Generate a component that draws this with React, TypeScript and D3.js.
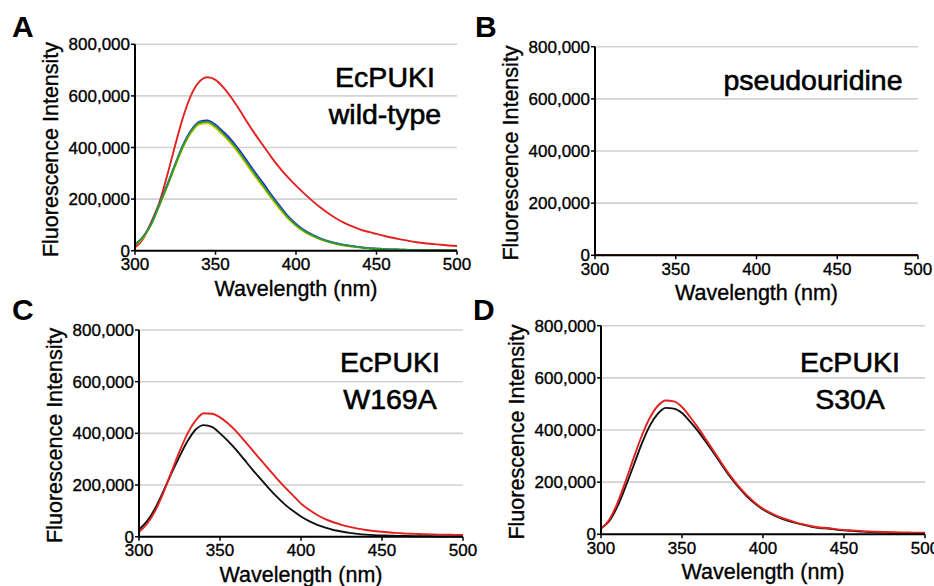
import React from "react";
import * as d3 from "d3";

// wavelength grid (nm) and values in units of 1,000 counts
const wavelength = [
  300, 305, 310, 315, 320, 325, 330, 335, 340, 345, 350, 355, 360, 365, 370,
  375, 380, 385, 390, 395, 400, 405, 410, 415, 420, 425, 430, 435, 440, 445,
  450, 455, 460, 465, 470, 475, 480, 485, 490, 495, 500,
];

const xTicks = [300, 350, 400, 450, 500];
const yTicks = [0, 200, 400, 600, 800];
const yTickLabels = ["0", "200,000", "400,000", "600,000", "800,000"];

// A: EcPUKI wild-type
const wtRed = [
  12, 45, 110, 185, 292, 410, 520, 605, 655, 672, 662, 632, 592, 545, 495,
  448, 404, 360, 320, 284, 252, 222, 194, 168, 145, 125, 108, 94, 82, 73,
  65, 57, 50, 44, 38, 33, 29, 26, 23, 20, 18,
];
const wtYellow = [
  22, 50, 100, 172, 248, 328, 402, 458, 490, 494, 476, 446, 412, 372, 328,
  284, 243, 200, 160, 124, 96, 74, 57, 44, 34, 26, 20, 16, 12, 9,
  7, 5, 4, 3, 2.5, 2, 1.5, 1.5, 1, 1, 1,
];
const wtBlue = [
  24, 54, 104, 178, 255, 336, 412, 468, 500, 505, 488, 460, 428, 388, 344,
  300, 258, 214, 173, 134, 104, 80, 62, 48, 37, 29, 22, 18, 14, 10,
  8, 6, 5, 4, 3, 2.5, 2, 2, 1.5, 1, 1,
];
const wtGreen = [
  24, 53, 102, 176, 252, 333, 408, 464, 496, 500, 482, 453, 420, 380, 336,
  292, 250, 207, 167, 129, 100, 77, 60, 46, 35, 27, 21, 17, 13, 10,
  8, 6, 5, 4, 3, 2.5, 2, 2, 1.5, 1, 1,
];

// B: pseudouridine
const psiRed = [
  1, 1, 1, 1, 1, 1, 1, 1, 1, 1, 1, 1, 1, 1, 1,
  1, 1, 1, 1, 1, 1, 1, 1, 1, 1, 1, 1, 1, 1, 1,
  1, 1, 1, 1, 1, 1, 1, 1, 1, 1, 1,
];

// C: EcPUKI W169A
const w169aBlack = [
  28, 60, 110, 175, 245, 310, 370, 415, 432, 425, 400, 370, 336, 298, 260,
  224, 188, 155, 125, 100, 78, 60, 46, 35, 26, 20, 15, 11, 8, 6,
  5, 4, 3, 2.5, 2, 1.5, 1.5, 1, 1, 1, 1,
];
const w169aRed = [
  18, 50, 100, 170, 250, 330, 400, 450, 478, 476, 462, 438, 408, 372, 335,
  298, 262, 226, 192, 160, 128, 104, 84, 68, 56, 46, 38, 31, 26, 22,
  19, 16, 14, 12, 11, 10, 9, 8, 8, 7, 7,
];

// D: EcPUKI S30A
const s30aBlack = [
  22, 50, 105, 180, 262, 345, 415, 462, 485, 482, 465, 432, 395, 352, 308,
  262, 218, 180, 146, 118, 95, 78, 64, 53, 44, 36, 29, 24, 22, 18,
  15, 13, 11, 9, 8, 7, 6, 5, 5, 4, 4,
];
const s30aRed = [
  22, 55, 118, 200, 290, 375, 445, 492, 513, 510, 488, 450, 408, 362, 315,
  268, 223, 184, 150, 121, 98, 81, 67, 56, 46, 38, 31, 26, 24, 20,
  17, 15, 13, 11, 10, 9, 8, 7, 7, 6, 6,
];

const RED = "#e3211e";
const BLACK = "#111111";
const FONT = "'Liberation Sans', Arial, sans-serif";

const panels = [
  {
    letter: "A", lx: 12, ly: 37,
    left: 135, right: 457, top: 44.3, bottom: 250.7,
    labels: ["EcPUKI", "wild-type"], labelX: 385, labelY: 86.7,
    series: [
      { values: wtRed, color: RED },
      { values: wtYellow, color: "#e8c800" },
      { values: wtBlue, color: "#2020e0" },
      { values: wtGreen, color: "#2ca02c" },
    ],
  },
  {
    letter: "B", lx: 475, ly: 37,
    left: 595, right: 918, top: 46.7, bottom: 255.3,
    labels: ["pseudouridine"], labelX: 813, labelY: 90,
    series: [{ values: psiRed, color: RED }],
  },
  {
    letter: "C", lx: 12, ly: 320,
    left: 139, right: 463, top: 330, bottom: 536.7,
    labels: ["EcPUKI", "W169A"], labelX: 390, labelY: 371.7,
    series: [
      { values: w169aBlack, color: BLACK },
      { values: w169aRed, color: RED },
    ],
  },
  {
    letter: "D", lx: 473, ly: 320,
    left: 601, right: 925, top: 325.7, bottom: 534.3,
    labels: ["EcPUKI", "S30A"], labelX: 850, labelY: 371.7,
    series: [
      { values: s30aBlack, color: BLACK },
      { values: s30aRed, color: RED },
    ],
  },
];

function Panel({ p }: { p: any }) {
  const x = d3.scaleLinear().domain([300, 500]).range([p.left, p.right]);
  const y = d3.scaleLinear().domain([0, 800]).range([p.bottom, p.top]);
  const line = d3
    .line<number>()
    .x((_, i) => x(wavelength[i]))
    .y((d) => y(d))
    .curve(d3.curveMonotoneX);

  return (
    <g fontFamily={FONT}>
      <text x={p.lx} y={p.ly} fontSize={30} fontWeight="bold" fill="#000">
        {p.letter}
      </text>

      {yTicks.slice(1).map((t) => (
        <line key={t} x1={p.left} x2={p.right} y1={y(t)} y2={y(t)}
          stroke="#d2d2d2" strokeWidth={1.6} />
      ))}

      {p.series.map((s: any, i: number) => (
        <path key={i} d={line(s.values) || ""} fill="none"
          stroke={s.color} strokeWidth={1.9} />
      ))}

      <line x1={p.left} x2={p.left} y1={p.top} y2={p.bottom}
        stroke="#000" strokeWidth={2} />
      <line x1={p.left} x2={p.right} y1={p.bottom} y2={p.bottom}
        stroke="#000" strokeWidth={2} />

      {yTicks.map((t, i) => (
        <g key={t}>
          <line x1={p.left - 4} x2={p.left} y1={y(t)} y2={y(t)}
            stroke="#000" strokeWidth={1.5} />
          <text x={p.left - 5} y={y(t)} dy="0.36em" textAnchor="end"
            fontSize={17} fill="#000" stroke="#000" strokeWidth={0.35}>
            {yTickLabels[i]}
          </text>
        </g>
      ))}

      {xTicks.map((t) => (
        <g key={t}>
          <line x1={x(t)} x2={x(t)} y1={p.bottom} y2={p.bottom + 4}
            stroke="#000" strokeWidth={1.5} />
          <text x={x(t)} y={p.bottom + 19.5} textAnchor="middle"
            fontSize={17} fill="#000" stroke="#000" strokeWidth={0.35}>
            {t}
          </text>
        </g>
      ))}

      <text x={(p.left + p.right) / 2} y={p.bottom + 45} textAnchor="middle"
        fontSize={21.5} fill="#000" stroke="#000" strokeWidth={0.35}>
        Wavelength (nm)
      </text>
      <text
        transform={`translate(${p.left - 77},${(p.top + p.bottom) / 2 + 2}) rotate(-90)`}
        textAnchor="middle" fontSize={21.5} fill="#000"
        stroke="#000" strokeWidth={0.35}>
        Fluorescence Intensity
      </text>

      {p.labels.map((l: string, i: number) => (
        <text key={l} x={p.labelX} y={p.labelY + i * 37.6}
          textAnchor="middle" fontSize={28.5} fill="#000"
          stroke="#000" strokeWidth={0.6}>
          {l}
        </text>
      ))}
    </g>
  );
}

export default function App() {
  return (
    <svg width={934} height={586}
      style={{ position: "absolute", left: 0, top: 0, background: "#fff" }}>
      {panels.map((p) => (
        <Panel key={p.letter} p={p} />
      ))}
    </svg>
  );
}
